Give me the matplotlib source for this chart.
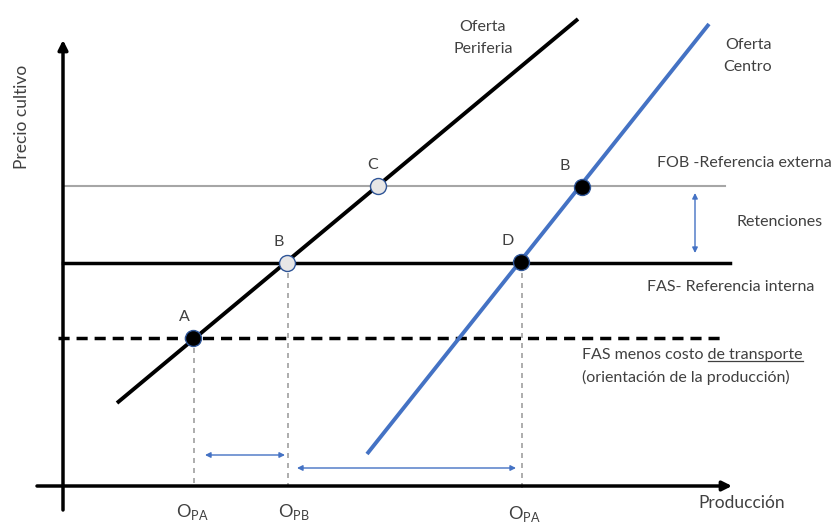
import numpy as np
import matplotlib
matplotlib.use('Agg')
import matplotlib.pyplot as plt

plt.rcParams['font.family'] = ['Lato', 'DejaVu Sans']
plt.rcParams['mathtext.fontset'] = 'custom'
plt.rcParams['mathtext.rm'] = 'Lato'

# diagram units (pixel-like: x to the right, y downward)
txt_col = '#404040'
azul = '#4472C4'

# curvas de oferta (extremos)
periferia_x = [117, 578]
periferia_y = [403, 19]
centro_x = [367, 709]
centro_y = [454, 24]

# niveles de precio
fob_y = 186
fas_y = 263
fas_menos_y = 338

# puntos
pts_x = [193, 287, 378, 521, 582]
pts_y = [338, 263, 186, 262, 187]
pts_lbl = ['A', 'B', 'C', 'D', 'B']
pts_fill = ['black', '#E7E6E6', '#E7E6E6', 'black', 'black']

# cantidades producidas
opa_x = 194
opb_x = 288
opa2_x = 522

fig = plt.figure(figsize=(8.35, 5.27), dpi=100)
ax = fig.add_axes([0, 0, 1, 1])
ax.set_xlim(0, 835)
ax.set_ylim(527, 0)
ax.axis('off')

# ejes
ax.annotate('', xy=(63, 40), xytext=(63, 510),
            arrowprops=dict(arrowstyle='-|>', color='black', lw=2.5,
                            mutation_scale=14, shrinkA=0, shrinkB=0))
ax.annotate('', xy=(732, 486), xytext=(37, 486),
            arrowprops=dict(arrowstyle='-|>', color='black', lw=2.5,
                            mutation_scale=14, shrinkA=0, shrinkB=0))

# lineas horizontales
ax.plot([63, 725], [fob_y, fob_y], color='#A6A6A6', lw=1.5)
ax.plot([63, 730], [fas_y, fas_y], color='black', lw=2.5)
ax.plot([58, 720], [fas_menos_y, fas_menos_y], color='black', lw=2.5,
        dashes=(3.2, 2))

# verticales punteadas
for xv, yv, yb in [(opa_x, fas_menos_y, 486), (opb_x, fas_y, 486), (opa2_x, fas_y, 490)]:
    ax.plot([xv, xv], [yv, yb], color='#A0A0A0', lw=1.2, dashes=(3, 3))

# ofertas
ax.plot(periferia_x, periferia_y, color='black', lw=2.8, solid_capstyle='butt')
ax.plot(centro_x, centro_y, color=azul, lw=2.8, solid_capstyle='butt')

# puntos
for xp, yp, fc in zip(pts_x, pts_y, pts_fill):
    ax.plot(xp, yp, 'o', ms=11.5, mfc=fc, mec='#2F5597', mew=1, zorder=5)
lbl_dx = [-9, -8, -5, -13, -17]
for xp, yp, lb, dx in zip(pts_x, pts_y, pts_lbl, lbl_dx):
    ax.text(xp + dx, yp - 21, lb, fontsize=11.5, color=txt_col, ha='center', va='center')

# flechas azules
arr = dict(arrowstyle='<|-|>', color=azul, lw=1, mutation_scale=8, shrinkA=0, shrinkB=0)
ax.annotate('', xy=(285, 455), xytext=(205, 455), arrowprops=arr)
ax.annotate('', xy=(516, 468), xytext=(297, 468), arrowprops=arr)
ax.annotate('', xy=(695, 253), xytext=(695, 193), arrowprops=arr)

# textos
fs = 11.5
ax.text(483, 38, 'Oferta\nPeriferia', fontsize=fs, color=txt_col, ha='center', va='center',
        linespacing=1.7)
ax.text(748, 56, 'Oferta\nCentro', fontsize=fs, color=txt_col, ha='center', va='center',
        linespacing=1.7)
ax.text(657, 163, 'FOB -Referencia externa', fontsize=fs, color=txt_col, va='center')
ax.text(737, 222, 'Retenciones', fontsize=fs, color=txt_col, va='center')
ax.text(647, 287, 'FAS- Referencia interna', fontsize=fs, color=txt_col, va='center')
t1 = ax.text(582, 355, 'FAS menos costo de transporte', fontsize=fs, color=txt_col, va='center')
ax.text(582, 377, '(orientación de la producción)', fontsize=fs, color=txt_col, va='center')
ax.text(22, 117, 'Precio cultivo', fontsize=12.5, color=txt_col, rotation=90,
        ha='center', va='center')
ax.text(742, 503, 'Producción', fontsize=12.5, color=txt_col, ha='center', va='center')

ax.text(176, 512, r'$\mathrm{O}_{\mathrm{PA}}$', fontsize=13, color=txt_col, va='center')
ax.text(278, 512, r'$\mathrm{O}_{\mathrm{PB}}$', fontsize=13, color=txt_col, va='center')
ax.text(508, 514, r'$\mathrm{O}_{\mathrm{PA}}$', fontsize=13, color=txt_col, va='center')

# subrayado de "de transporte"
fig.canvas.draw()
r = fig.canvas.get_renderer()
pre = ax.text(582, 355, 'FAS menos costo ', fontsize=fs, va='center', alpha=0)
bb_pre = pre.get_window_extent(r)
bb_all = t1.get_window_extent(r)
inv = ax.transData.inverted()
x_a = inv.transform((bb_pre.x1, bb_all.y0))
x_b = inv.transform((bb_all.x1, bb_all.y0))
ax.plot([x_a[0], x_b[0]], [x_a[1] - 1, x_b[1] - 1], color=txt_col, lw=0.9)

fig.savefig('out.png', dpi=100)
